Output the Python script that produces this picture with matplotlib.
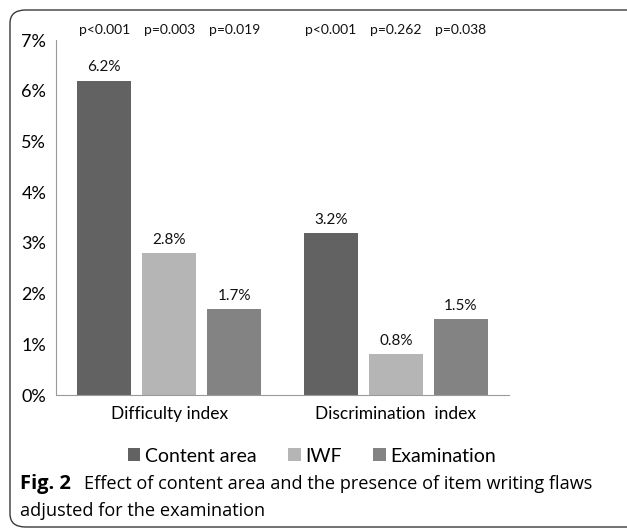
import matplotlib
matplotlib.use("Agg")
import matplotlib.pyplot as plt
from matplotlib.patches import FancyBboxPatch, Patch
import numpy as np

categories = ["Difficulty index", "Discrimination  index"]
series = ["Content area", "IWF", "Examination"]
values = {
    "Content area": [6.2, 3.2],
    "IWF": [2.8, 0.8],
    "Examination": [1.7, 1.5],
}
pvalues = {
    "Content area": ["p<0.001", "p<0.001"],
    "IWF": ["p=0.003", "p=0.262"],
    "Examination": ["p=0.019", "p=0.038"],
}
yticks = [0, 1, 2, 3, 4, 5, 6, 7]
colors = {"Content area": "#626262", "IWF": "#b5b5b5", "Examination": "#838383"}

chart_font = ["Lato", "DejaVu Sans"]
cap_font = ["Open Sans", "DejaVu Sans"]

fig = plt.figure(figsize=(6.27, 5.30), dpi=100)
fig.patch.set_facecolor("white")

# outer rounded frame
frame = FancyBboxPatch((10 / 627, 3 / 530), 1.2, 1 - 13 / 530,
                       boxstyle="round,pad=0,rounding_size=0.025",
                       transform=fig.transFigure, fill=False,
                       edgecolor="#3a3a3a", linewidth=1.0, clip_on=False)
fig.patches.append(frame)

ax = fig.add_axes([56 / 627, 135 / 530, 453 / 627, 355 / 530])
x = np.arange(len(categories))
offsets = [-0.287, 0.0, 0.287]
width = 0.238
for s, off in zip(series, offsets):
    ax.bar(x + off, values[s], width=width, color=colors[s], label=s)
    for xi, v in zip(x + off, values[s]):
        ax.text(xi, v + 0.12, f"{v:.1f}%", ha="center", va="bottom",
                fontsize=11, family=chart_font, color="#111111")
    for xi, p in zip(x + off, pvalues[s]):
        ax.text(xi, 7.2, p, ha="center", va="center", fontsize=10,
                family=chart_font, color="#111111", clip_on=False)

ax.set_xlim(-0.5, 1.5)
ax.set_ylim(0, 7)
ax.set_yticks(yticks)
ax.set_yticklabels([f"{t}%" for t in yticks], family=chart_font, fontsize=13)
ax.set_xticks(x)
ax.set_xticklabels(categories, family=chart_font, fontsize=12.5)
ax.tick_params(axis="y", length=0, pad=7)
ax.tick_params(axis="x", length=0, pad=8)
for sp in ["top", "right"]:
    ax.spines[sp].set_visible(False)
ax.spines["left"].set_color("#9a9a9a")
ax.spines["bottom"].set_color("#9a9a9a")
ax.spines["left"].set_linewidth(0.8)
ax.spines["bottom"].set_linewidth(0.8)

handles = [Patch(facecolor=colors[s], edgecolor="none") for s in series]
fig.legend(handles, series, loc="center", bbox_to_anchor=(312 / 627, 1 - 456 / 530),
           ncol=3, frameon=False, prop={"family": chart_font, "size": 14},
           handlelength=0.65, handleheight=0.65, handletextpad=0.25, columnspacing=1.6)

fig.text(20 / 627, 1 - 484 / 530, "Fig. 2", fontsize=14.5, fontweight="bold",
         family=cap_font, va="center", ha="left")
fig.text(84 / 627, 1 - 484 / 530, "Effect of content area and the presence of item writing flaws",
         fontsize=13.1, family=cap_font, va="center", ha="left")
fig.text(20 / 627, 1 - 511 / 530, "adjusted for the examination",
         fontsize=13.1, family=cap_font, va="center", ha="left")

fig.savefig("out.png", dpi=100, facecolor="white")
